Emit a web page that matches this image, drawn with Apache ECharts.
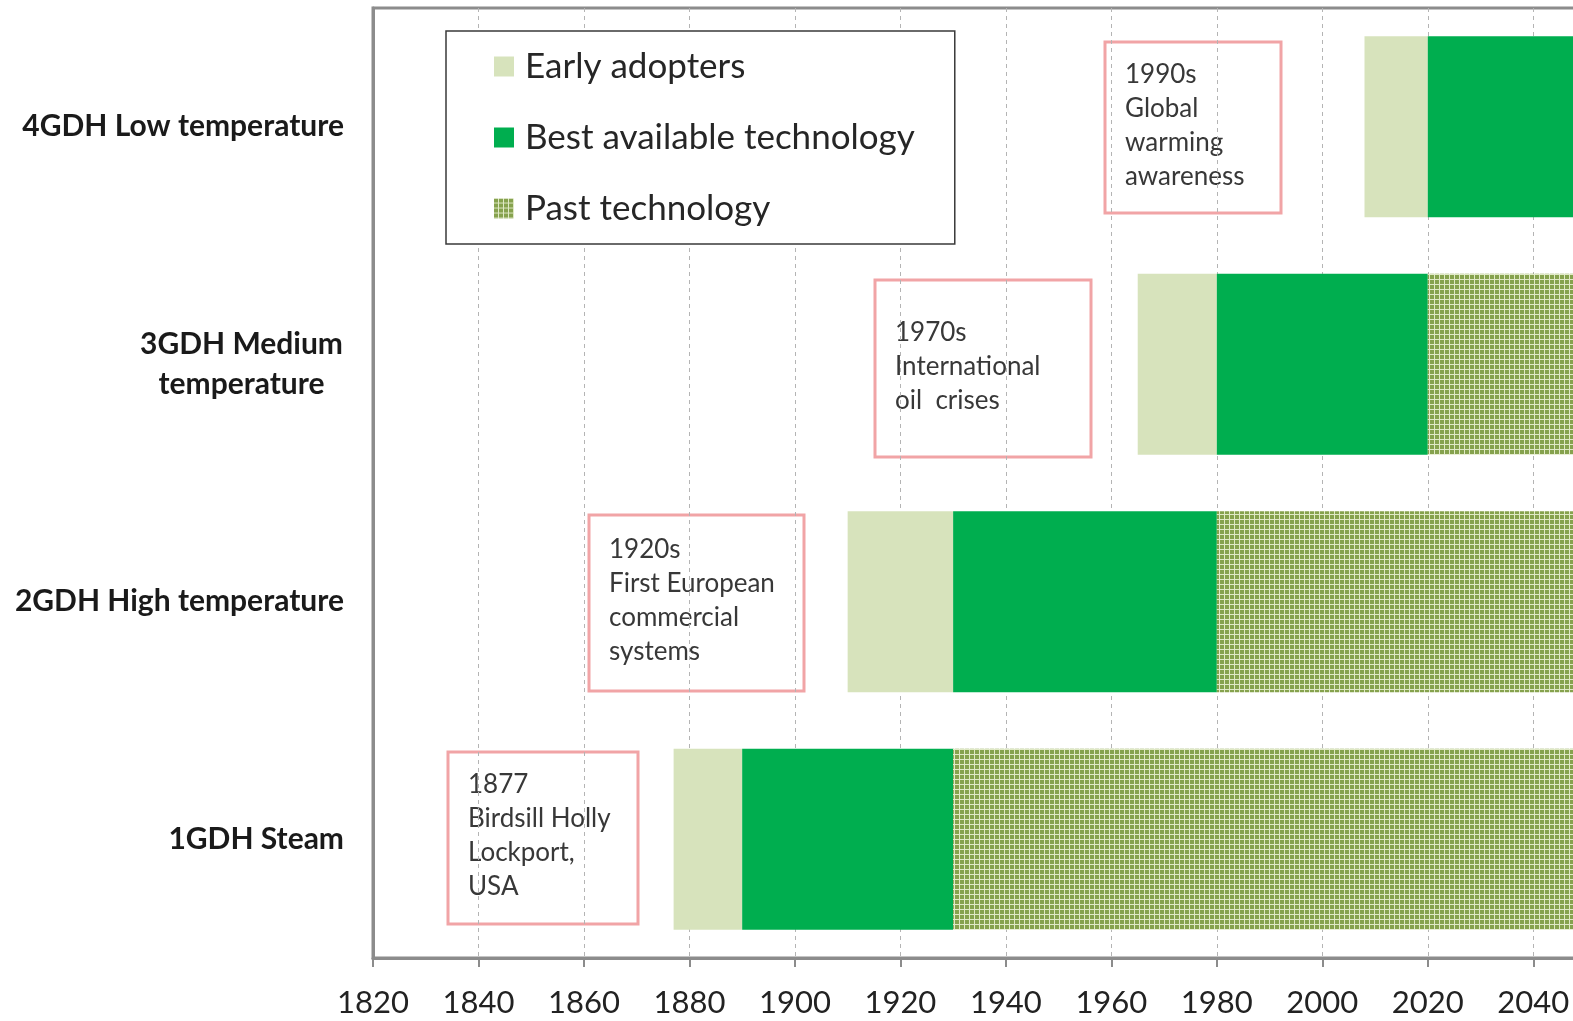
<!DOCTYPE html>
<html>
<head>
<meta charset="utf-8">
<script src="https://cdn.jsdelivr.net/npm/echarts@6/dist/echarts.min.js"></script>
<style>
  html, body { margin: 0; padding: 0; background: #fff; }
  #chart { width: 1573px; height: 1021px; }
</style>
</head>
<body>
<div id="chart"></div>
<script>
// generations, bottom to top
const categories = ['1GDH Steam', '2GDH High temperature', '3GDH Medium\ntemperature', '4GDH Low temperature'];
const earlyStart = [1877, 1910, 1965, 2008];
const bestStart = [1890, 1930, 1980, 2020];
const pastStart = [1930, 1980, 2020, null];
const endYear = 2050;
const axisMin = 1820;
const axisStep = 20;

const notes = [
  { text: '1877\nBirdsill Holly\nLockport,\nUSA', x: 448, y: 752, w: 190, h: 172 },
  { text: '1920s\nFirst European\ncommercial\nsystems', x: 589, y: 515, w: 215, h: 176 },
  { text: '1970s\nInternational\noil  crises', x: 875, y: 280, w: 216, h: 177 },
  { text: '1990s\nGlobal\nwarming\nawareness', x: 1105, y: 42, w: 176, h: 171 },
];

const makePattern = () => {
  const c = document.createElement('canvas');
  c.width = 5;
  c.height = 5;
  const ctx = c.getContext('2d');
  ctx.fillStyle = '#e0e9c6';
  ctx.fillRect(0, 0, 5, 5);
  ctx.fillStyle = '#86a24e';
  ctx.fillRect(0, 0, 4, 4);
  return c;
};

const earlyLen = earlyStart.map((s, i) => bestStart[i] - s);
const bestLen = bestStart.map((s, i) => (pastStart[i] == null ? endYear : pastStart[i]) - s);
const pastLen = pastStart.map(s => (s == null ? 0 : endYear - s));

const labelFont = 'Lato, "Open Sans", sans-serif';

const getChartOptions = () => ({
  animation: false,
  grid: {
    left: 373,
    top: 8,
    width: 1213,
    bottom: 63,
    outerBoundsMode: 'none',
    containLabel: false,
    show: true,
    borderColor: '#8c8c8c',
    borderWidth: 3,
  },
  legend: {
    orient: 'vertical',
    left: 446,
    top: 31,
    data: ['Early adopters', 'Best available technology', 'Past technology'],
    icon: 'rect',
    itemWidth: 20,
    itemHeight: 20,
    itemGap: 36,
    padding: [18, 40, 18, 48],
    backgroundColor: '#fff',
    borderColor: '#3a3a3a',
    borderWidth: 1.5,
    borderRadius: 0,
    textStyle: {
      fontFamily: labelFont,
      fontSize: 35,
      lineHeight: 35,
      color: '#262626',
      padding: [0, 0, 0, 6],
    },
  },
  xAxis: {
    type: 'value',
    min: axisMin,
    max: endYear,
    interval: axisStep,
    axisLine: { show: true, lineStyle: { color: '#8c8c8c', width: 3 } },
    axisTick: { show: true, length: 9, lineStyle: { color: '#8c8c8c', width: 2 } },
    axisLabel: {
      showMaxLabel: false,
      margin: 29,
      fontFamily: labelFont,
      fontSize: 31,
      color: '#222',
      formatter: v => String(v),
    },
    splitLine: {
      show: true,
      lineStyle: { color: '#b4b4b4', width: 1, type: [4, 4] },
    },
  },
  yAxis: {
    type: 'category',
    data: categories,
    axisLine: { show: true, lineStyle: { color: '#8c8c8c', width: 3 } },
    axisTick: { show: false },
    axisLabel: {
      margin: 29,
      fontFamily: labelFont,
      fontWeight: 'bold',
      fontSize: 30,
      color: '#1a1a1a',
      lineHeight: 40,
      formatter: v => (v.indexOf('\n') >= 0 ? v.split('\n').map(s => '{c|' + s + '}').join('\n') : v),
      rich: {
        c: {
          width: 205,
          align: 'center',
          fontFamily: labelFont,
          fontWeight: 'bold',
          fontSize: 30,
          lineHeight: 40,
          color: '#1a1a1a',
        },
      },
    },
    splitLine: { show: false },
  },
  series: [
    {
      name: 'base',
      type: 'bar',
      stack: 'gen',
      barWidth: 181,
      itemStyle: { color: 'transparent' },
      silent: true,
      data: earlyStart,
    },
    {
      name: 'Early adopters',
      type: 'bar',
      stack: 'gen',
      itemStyle: { color: '#d7e3bc' },
      data: earlyLen,
    },
    {
      name: 'Best available technology',
      type: 'bar',
      stack: 'gen',
      itemStyle: { color: '#00ae4f' },
      data: bestLen,
    },
    {
      name: 'Past technology',
      type: 'bar',
      stack: 'gen',
      itemStyle: { color: { image: makePattern(), repeat: 'repeat' } },
      data: pastLen,
    },
  ],
  graphic: notes.map(n => ({
    type: 'group',
    z: 100,
    children: [
      {
        type: 'rect',
        shape: { x: n.x, y: n.y, width: n.w, height: n.h },
        style: { fill: '#fff', stroke: '#f1a4a6', lineWidth: 3 },
      },
      {
        type: 'text',
        style: {
          x: n.x + 20,
          y: n.y + n.h / 2 - 2,
          text: n.text,
          font: '26px ' + labelFont,
          lineHeight: 34,
          fill: '#383838',
          verticalAlign: 'middle',
        },
      },
    ],
  })),
});

const chart = echarts.init(document.getElementById('chart'));
chart.setOption(getChartOptions());
</script>
</body>
</html>
